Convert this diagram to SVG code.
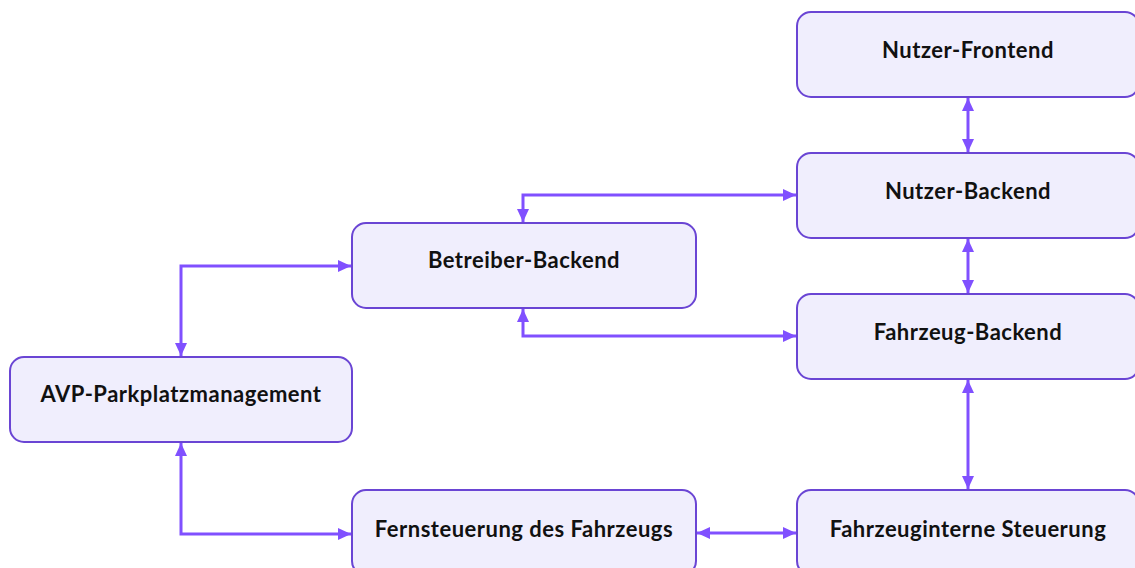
<svg xmlns="http://www.w3.org/2000/svg" width="1135" height="568" viewBox="0 0 1135 568">
<style>
.box{fill:#f0eefd;stroke:#6a45d4;stroke-width:2}
.lbl{font-family:Lato,"Liberation Sans",sans-serif;font-weight:bold;font-size:22px;letter-spacing:0.5px;fill:#111;text-anchor:middle}
.con{fill:none;stroke:#8050ff;stroke-width:3;marker-start:url(#ah);marker-end:url(#ah)}
</style>
<defs>
<marker id="ah" viewBox="0 0 13 12" refX="13" refY="6" markerWidth="13" markerHeight="12" markerUnits="userSpaceOnUse" orient="auto-start-reverse">
<path d="M0,0 L13,6 L0,12 Z" fill="#8050ff"/>
</marker>
</defs>
<rect width="1135" height="568" fill="#fff"/>
<g id="connectors">
<path class="con" d="M968,98 L968,152"/>
<path class="con" d="M968,239 L968,293"/>
<path class="con" d="M968,380 L968,489"/>
<path class="con" d="M523,222 L523,195 L796,195"/>
<path class="con" d="M523,309 L523,336 L796,336"/>
<path class="con" d="M181,356 L181,266 L351,266"/>
<path class="con" d="M181,443 L181,534 L351,534"/>
<path class="con" d="M697,533 L796,533"/>
</g>
<g id="nutzer-frontend"><rect class="box" x="797" y="12" width="342" height="85" rx="14"/><text class="lbl" x="968" y="58">Nutzer-Frontend</text></g>
<g id="nutzer-backend"><rect class="box" x="797" y="153" width="342" height="85" rx="14"/><text class="lbl" x="968" y="199">Nutzer-Backend</text></g>
<g id="fahrzeug-backend"><rect class="box" x="797" y="294" width="342" height="85" rx="14"/><text class="lbl" x="968" y="340">Fahrzeug-Backend</text></g>
<g id="fahrzeuginterne-steuerung"><rect class="box" x="797" y="490" width="342" height="85" rx="14"/><text class="lbl" x="968" y="537">Fahrzeuginterne Steuerung</text></g>
<g id="betreiber-backend"><rect class="box" x="352" y="223" width="344" height="85" rx="14"/><text class="lbl" x="524" y="268">Betreiber-Backend</text></g>
<g id="avp-parkplatzmanagement"><rect class="box" x="10" y="357" width="342" height="85" rx="14"/><text class="lbl" x="181" y="402">AVP-Parkplatzmanagement</text></g>
<g id="fernsteuerung"><rect class="box" x="352" y="490" width="344" height="85" rx="14"/><text class="lbl" x="524" y="537">Fernsteuerung des Fahrzeugs</text></g>
</svg>
